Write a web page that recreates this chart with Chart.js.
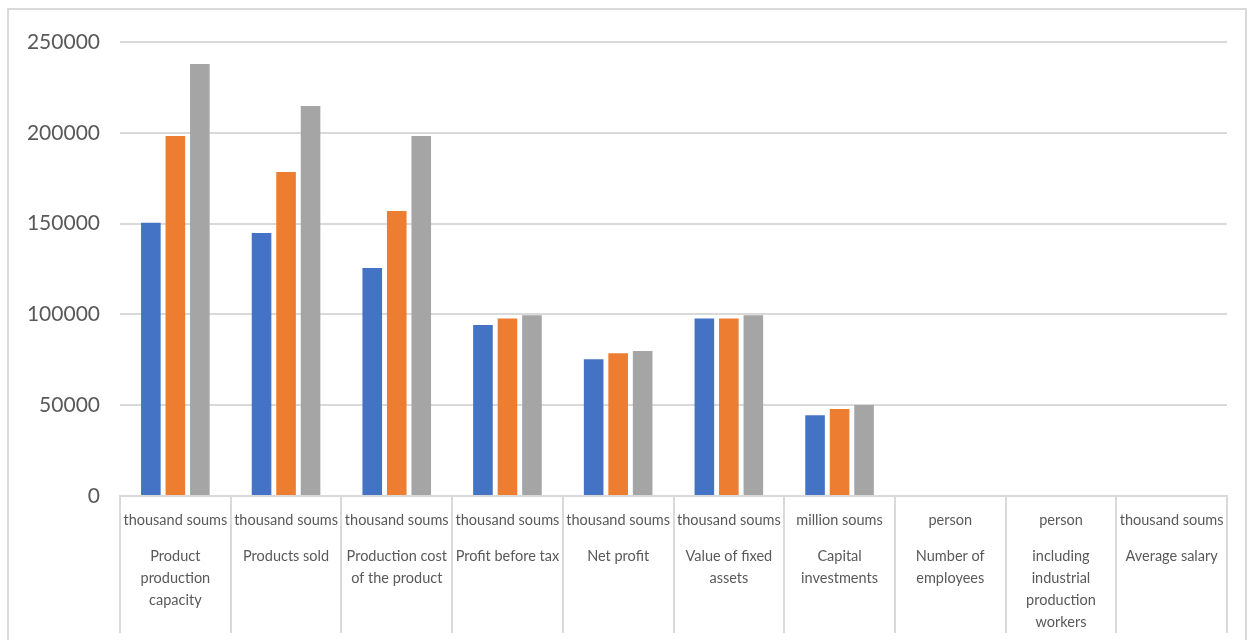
<!DOCTYPE html>
<html>
<head>
<meta charset="utf-8">
<script src="https://cdn.jsdelivr.net/npm/chart.js@4/dist/chart.umd.min.js"></script>
<style>
    html, body { margin: 0; padding: 0; background: #fff; overflow: hidden; }
    #frame {
        position: absolute; left: 7px; top: 8px; width: 1236px; height: 700px;
        border: 2px solid #D9D9D9;
    }
    #wrap { position: absolute; left: 0; top: 0; width: 1252px; height: 640px; }
</style>
</head>
<body>
<div id="frame"></div>
<div id="wrap"><canvas id="chart"></canvas></div>
<script>
// Category axis: unit row and name row
const units = ["thousand soums", "thousand soums", "thousand soums", "thousand soums", "thousand soums",
    "thousand soums", "million soums", "person", "person", "thousand soums"];
const names = [
    ["Product", "production", "capacity"],
    ["Products sold"],
    ["Production cost", "of the product"],
    ["Profit before tax"],
    ["Net profit"],
    ["Value of fixed", "assets"],
    ["Capital", "investments"],
    ["Number of", "employees"],
    ["including", "industrial", "production", "workers"],
    ["Average salary"]
];

// Series values
const series1 = [150500, 144800, 125600, 94200, 75300, 97800, 44400, 0, 0, 0];
const series2 = [198200, 178400, 157000, 97800, 78600, 97800, 47900, 0, 0, 0];
const series3 = [237900, 214800, 198200, 99500, 79800, 99500, 50100, 0, 0, 0];

const yTicks = [0, 50000, 100000, 150000, 200000, 250000];

const labelFont = "14.5px Lato, 'Open Sans', sans-serif";
const textColor = "#595959";

// draws the two-row category labels under the axis
const categoryLabels = {
    id: "categoryLabels",
    afterDraw(chart) {
        const ctx = chart.ctx;
        const x = chart.scales.x;
        const base = chart.chartArea.bottom;
        ctx.save();
        ctx.font = labelFont;
        ctx.fillStyle = textColor;
        ctx.textAlign = "center";
        ctx.textBaseline = "middle";
        units.forEach((unit, i) => {
            const cx = x.getPixelForValue(i);
            ctx.fillText(unit, cx, base + 24);
            names[i].forEach((line, k) => {
                ctx.fillText(line, cx, base + 60 + k * 22);
            });
        });
        ctx.restore();
    }
};

const ctx = document.getElementById("chart").getContext("2d");

new Chart(ctx, {
    type: "bar",
    data: {
        labels: units.map((u, i) => names[i].join(" ")),
        datasets: [
            { label: "Series 1", data: series1, backgroundColor: "#4472C4" },
            { label: "Series 2", data: series2, backgroundColor: "#ED7D31" },
            { label: "Series 3", data: series3, backgroundColor: "#A5A5A5" },
        ],
    },
    options: {
        responsive: true,
        maintainAspectRatio: false,
        animation: false,
        categoryPercentage: 0.664,
        barPercentage: 0.8,
        layout: { padding: { left: 8, right: 25, top: 42, bottom: 7 } },
        plugins: {
            legend: { display: false },
            tooltip: { enabled: false },
        },
        scales: {
            x: {
                grid: {
                    display: true,
                    offset: true,
                    drawOnChartArea: false,
                    drawTicks: true,
                    tickLength: 137,
                    color: "#D9D9D9",
                    lineWidth: 2,
                },
                border: { display: true, color: "#D9D9D9", width: 2 },
                ticks: { display: false },
            },
            y: {
                min: 0,
                max: 250000,
                afterBuildTicks: (scale) => {
                    scale.ticks = yTicks.map((v) => ({ value: v }));
                },
                afterFit: (scale) => {
                    scale.width = 112;
                },
                grid: { color: "#D9D9D9", lineWidth: 2, drawTicks: false },
                border: { display: false },
                ticks: {
                    padding: 20,
                    color: textColor,
                    font: { family: "Lato, 'Open Sans', sans-serif", size: 21 },
                    callback: (v) => String(v),
                },
            },
        },
    },
    plugins: [categoryLabels],
});
</script>
</body>
</html>
